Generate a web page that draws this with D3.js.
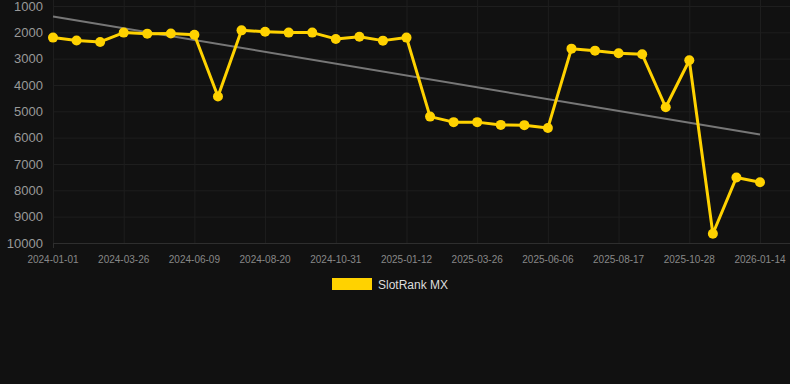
<!DOCTYPE html>
<html>
<head>
<meta charset="utf-8">
<script src="https://cdn.jsdelivr.net/npm/d3@7"></script>
<style>
  html, body { margin: 0; padding: 0; background: #111111; }
  svg { display: block; font-family: "Liberation Sans", Arial, sans-serif; }
</style>
</head>
<body>
<div id="container"></div>
<script>
const dates = [
  "2024-01-01", "2024-01-29", "2024-02-27", "2024-03-26", "2024-04-20", "2024-05-15",
  "2024-06-09", "2024-07-03", "2024-07-27", "2024-08-20", "2024-09-13", "2024-10-07",
  "2024-10-31", "2024-11-24", "2024-12-19", "2025-01-12", "2025-02-05", "2025-03-02",
  "2025-03-26", "2025-04-19", "2025-05-13", "2025-06-06", "2025-06-30", "2025-07-24",
  "2025-08-17", "2025-09-10", "2025-10-04", "2025-10-28", "2025-11-22", "2025-12-19",
  "2026-01-14"
];
const ranks = [
  2200, 2310, 2365, 2010, 2050, 2045, 2090, 4440, 1925, 1975, 2010, 2010,
  2250, 2165, 2315, 2200, 5200, 5410, 5410, 5515, 5525, 5630, 2620, 2695,
  2795, 2835, 4845, 3060, 9650, 7510, 7690
];
const yTicks = [1000, 2000, 3000, 4000, 5000, 6000, 7000, 8000, 9000, 10000];
const seriesName = "SlotRank MX";

const w = 790;
const h = 384;
const plotLeft = 53, plotRight = 760, plotTop = 6, plotBottom = 243;
const yellow = "#FFD200";

const svg = d3.select("#container")
  .append("svg")
  .attr("width", w)
  .attr("height", h)
  .style("background-color", "#111111");

const xScale = d3.scalePoint()
  .domain(dates)
  .range([plotLeft, plotRight]);

const yScale = d3.scaleLinear()
  .domain([1000, 10000])
  .range([plotTop, plotBottom]);

// grid (runs on to the right edge, like the original)
svg.append("g")
  .selectAll("line")
  .data(yTicks)
  .enter()
  .append("line")
  .attr("x1", plotLeft)
  .attr("x2", w)
  .attr("y1", d => yScale(d) + 0.5)
  .attr("y2", d => yScale(d) + 0.5)
  .attr("stroke", d => d === 10000 ? "#2e2e2e" : "#1e1e1e")
  .attr("stroke-width", 1);

const labeled = dates.filter((d, i) => i % 3 === 0);

svg.append("g")
  .selectAll("line")
  .data(labeled)
  .enter()
  .append("line")
  .attr("x1", d => xScale(d) + 0.5)
  .attr("x2", d => xScale(d) + 0.5)
  .attr("y1", 0)
  .attr("y2", plotBottom)
  .attr("stroke", "#1e1e1e");

// y labels
svg.append("g")
  .selectAll("text")
  .data(yTicks)
  .enter()
  .append("text")
  .attr("x", 43)
  .attr("y", d => yScale(d) + 4.5)
  .attr("text-anchor", "end")
  .attr("font-size", 13)
  .attr("fill", "#999999")
  .text(d => d);

// x labels
svg.append("g")
  .selectAll("text")
  .data(labeled)
  .enter()
  .append("text")
  .attr("x", d => xScale(d))
  .attr("y", 263)
  .attr("text-anchor", "middle")
  .attr("font-size", 10)
  .attr("fill", "#888888")
  .text(d => d);

svg.append("line")
  .attr("x1", plotLeft + 0.5).attr("x2", plotLeft + 0.5)
  .attr("y1", plotBottom).attr("y2", plotBottom + 5)
  .attr("stroke", "#2e2e2e");

// trend line (least squares over index)
const n = ranks.length;
const mx = d3.mean(ranks, (d, i) => i);
const my = d3.mean(ranks);
const slope = d3.sum(ranks, (d, i) => (i - mx) * (d - my)) / d3.sum(ranks, (d, i) => (i - mx) * (i - mx));
const trend = [0, n - 1].map(i => [dates[i], my + slope * (i - mx)]);

svg.append("path")
  .datum(trend)
  .attr("fill", "none")
  .attr("stroke", "#777777")
  .attr("stroke-width", 2)
  .attr("d", d3.line().x(d => xScale(d[0])).y(d => yScale(d[1])));

// series
const points = dates.map((d, i) => [d, ranks[i]]);

svg.append("path")
  .datum(points)
  .attr("fill", "none")
  .attr("stroke", yellow)
  .attr("stroke-width", 3)
  .attr("stroke-linejoin", "round")
  .attr("d", d3.line().x(d => xScale(d[0])).y(d => yScale(d[1])));

svg.append("g")
  .selectAll("circle")
  .data(points)
  .enter()
  .append("circle")
  .attr("cx", d => xScale(d[0]))
  .attr("cy", d => yScale(d[1]))
  .attr("r", 5)
  .attr("fill", yellow);

// legend
svg.append("rect")
  .attr("x", 332)
  .attr("y", 278)
  .attr("width", 40)
  .attr("height", 12)
  .attr("fill", yellow);

svg.append("text")
  .attr("x", 378)
  .attr("y", 289)
  .attr("font-size", 12)
  .attr("fill", "#dddddd")
  .text(seriesName);
</script>
</body>
</html>
